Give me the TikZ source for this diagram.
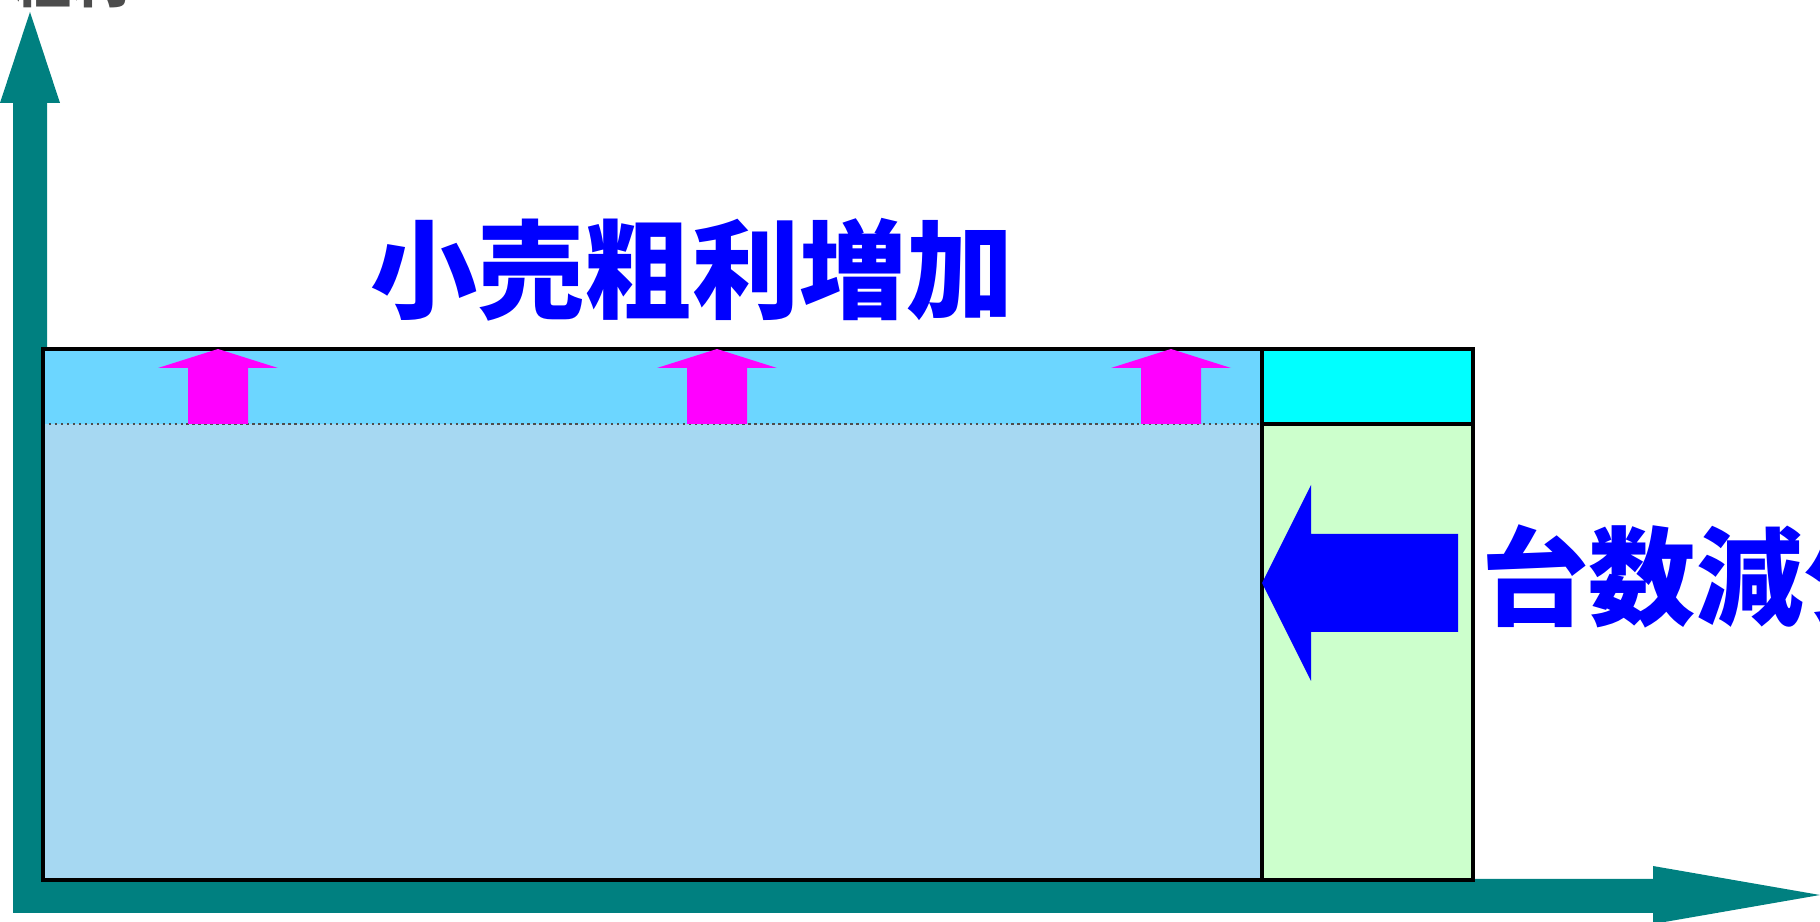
\documentclass[tikz,border=0pt]{standalone}
\usepackage{fontspec}
\usepackage{tikz}
\usetikzlibrary{positioning,calc}
\newfontfamily\cjk{Noto Sans CJK JP}
\definecolor{axisteal}{RGB}{0,128,128}
\definecolor{bandblue}{RGB}{108,214,255}
\definecolor{baseblue}{RGB}{166,216,242}
\definecolor{cutcyan}{RGB}{0,255,255}
\definecolor{lossgreen}{RGB}{204,255,204}
\definecolor{upmagenta}{RGB}{255,0,255}

\begin{document}
\begin{tikzpicture}[x=0.01cm,y=-0.01cm,
    axisfill/.style={fill=axisteal},
    boxline/.style={draw=black,line width=0.9pt},
    upfill/.style={fill=upmagenta},
    bigtext/.style={text=blue,inner sep=0pt,font=\cjk\bfseries\fontsize{30.5}{36}\selectfont}]
            \useasboundingbox (0,0) rectangle (1820,922);

            % Axis label (cut off at the top)
            \node[anchor=south, inner sep=0pt, text=black!70, font=\cjk\bfseries\fontsize{16.5}{20}\selectfont] (ylabel) at (72,9) {粗利};

            % Axes
            \fill[axisfill] (13,913) -- (13,103) -- (0,103) -- (30,12) -- (60,103) -- (47,103) -- (47,879) -- (1653,879) -- (1653,866) -- (1820,895) -- (1653,924) -- (1653,913) -- cycle;

            % Gross profit area
            \fill[baseblue] (43,424) rectangle (1262,880);
            \fill[bandblue] (43,349) rectangle (1262,424);
            \draw[black!70, densely dotted, line width=0.7pt] (43,424) -- (1262,424);
            \draw[boxline] (43,349) rectangle (1262,880);

            % Lost units
            \draw[boxline, fill=cutcyan] (1262,349) rectangle (1473,424);
            \draw[boxline, fill=lossgreen] (1262,424) rectangle (1473,880);

            % Margin up arrows
            \foreach \tx in {218,717,1171}
                \fill[upfill] (\tx-60,368) -- (\tx,349) -- (\tx+60,368) -- (\tx+30,368) -- (\tx+30,424) -- (\tx-30,424) -- (\tx-30,368) -- cycle;

            % Units down arrow
            \fill[blue] (1262,583) -- (1311,485) -- (1311,534) -- (1458,534) -- (1458,632) -- (1311,632) -- (1311,681) -- cycle;

            % Labels
            \node[bigtext] (marginup) at (692,270) {小売粗利増加};
            \node[bigtext, anchor=west] (unitsdown) at (1481,576) {台数減少};
        \end{tikzpicture}
\end{document}
